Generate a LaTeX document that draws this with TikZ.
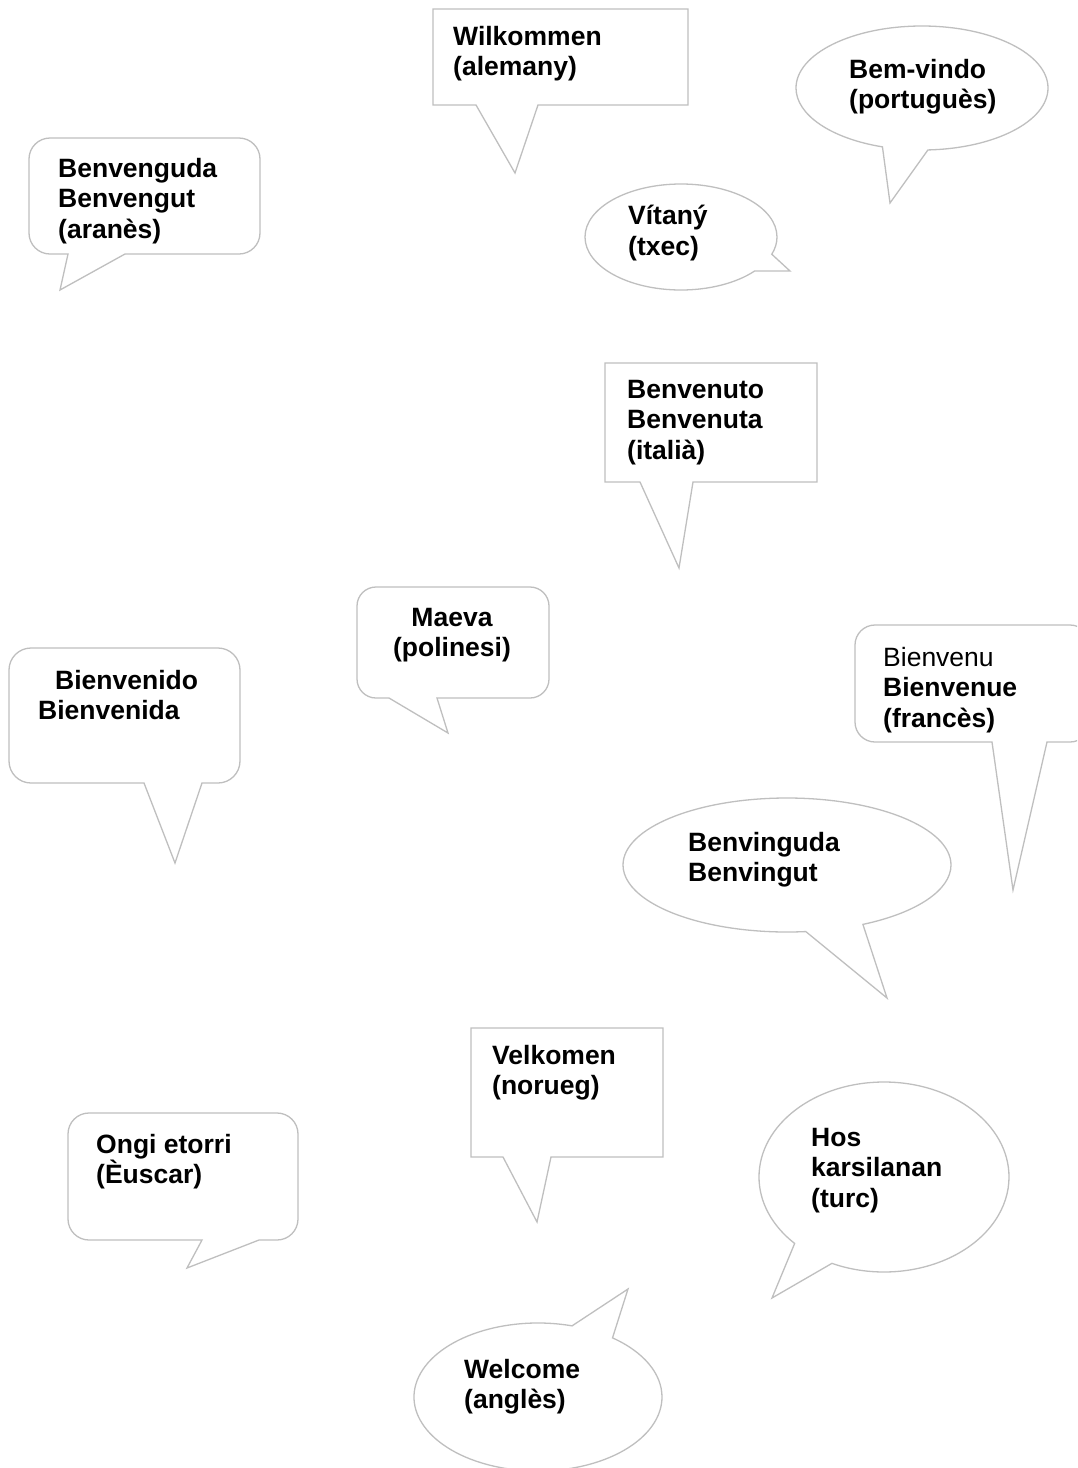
\documentclass[tikz,border=0pt]{standalone}
\usepackage{fontspec}
\setmainfont{Liberation Sans}
\usepackage{xcolor}
\usepackage{tikz}
\usetikzlibrary{shapes.callouts}
\definecolor{bubbleGray}{HTML}{BFBFBF}
\tikzset{
  bubble/.style={
    draw=bubbleGray, line width=1.3pt,
    fill=white, line join=miter
  },
  oval/.style={
    ellipse callout, bubble,
    callout pointer arc=21, inner sep=0pt
  },
  say/.style={
    anchor=north west, inner sep=0pt, align=left,
    font=\fontsize{26.5pt}{30.5pt}\selectfont\bfseries
  }
}
\begin{document}
\begin{tikzpicture}[x=1pt, y=-1pt]
  \useasboundingbox (0,0) rectangle (1077,1468);
  \clip (0,0) rectangle (1077,1468);
  % square boxes
  \draw[bubble] (433,9) -- (688,9) -- (688,105) -- (538,105) -- (515,173) -- (476,105) -- (433,105) -- cycle;
  \draw[bubble] (605,363) -- (817,363) -- (817,482) -- (693,482) -- (679,568) -- (640,482) -- (605,482) -- cycle;
  \draw[bubble] (471,1028) -- (663,1028) -- (663,1157) -- (551,1157) -- (537,1222) -- (503,1157) -- (471,1157) -- cycle;
  % rounded boxes
  \draw[bubble] (50,138) -- (239,138) arc[start angle=90, end angle=0, radius=21pt] -- (260,233) arc[start angle=0, end angle=-90, radius=21pt]
    -- (125,254) -- (60,290) -- (68,254) -- (50,254) arc[start angle=-90, end angle=-180, radius=21pt] -- (29,159) arc[start angle=180, end angle=90, radius=21pt] -- cycle;
  \draw[bubble] (376,587) -- (530,587) arc[start angle=90, end angle=0, radius=19pt] -- (549,679) arc[start angle=0, end angle=-90, radius=19pt]
    -- (437,698) -- (448,733) -- (389,698) -- (376,698) arc[start angle=-90, end angle=-180, radius=19pt] -- (357,606) arc[start angle=180, end angle=90, radius=19pt] -- cycle;
  \draw[bubble] (31,648) -- (218,648) arc[start angle=90, end angle=0, radius=22pt] -- (240,761) arc[start angle=0, end angle=-90, radius=22pt]
    -- (202,783) -- (175,863) -- (144,783) -- (31,783) arc[start angle=-90, end angle=-180, radius=22pt] -- (9,670) arc[start angle=180, end angle=90, radius=22pt] -- cycle;
  \draw[bubble] (875,625) -- (1070,625) arc[start angle=90, end angle=0, radius=20pt] -- (1090,722) arc[start angle=0, end angle=-90, radius=20pt]
    -- (1047,742) -- (1013,890) -- (992,742) -- (875,742) arc[start angle=-90, end angle=-180, radius=20pt] -- (855,645) arc[start angle=180, end angle=90, radius=20pt] -- cycle;
  \draw[bubble] (89,1113) -- (277,1113) arc[start angle=90, end angle=0, radius=21pt] -- (298,1219) arc[start angle=0, end angle=-90, radius=21pt]
    -- (259,1240) -- (187,1268) -- (202,1240) -- (89,1240) arc[start angle=-90, end angle=-180, radius=21pt] -- (68,1134) arc[start angle=180, end angle=90, radius=21pt] -- cycle;
  % ovals
  \node[oval, minimum width=252pt, minimum height=124pt, callout absolute pointer={(890,203)}] (bemvindo) at (922,88) {};
  \node[oval, minimum width=192pt, minimum height=106pt, callout absolute pointer={(790,271)}] (vitany) at (681,237) {};
  \node[oval, minimum width=328pt, minimum height=134pt, callout absolute pointer={(887,998)}] (benvinguda) at (787,865) {};
  \node[oval, minimum width=250pt, minimum height=190pt, callout absolute pointer={(772,1298)}] (hos) at (884,1177) {};
  \node[oval, minimum width=248pt, minimum height=148pt, callout absolute pointer={(628,1289)}] (welcome) at (538,1397) {};
  % texts
  \node[say] (alemany) at (453,26) {Wilkommen\\(alemany)};
  \node[say] (portugues) at (849,59) {Bem-vindo\\(portuguès)};
  \node[say] (aranes) at (58,158) {Benvenguda\\Benvengut\\(aranès)};
  \node[say] (txec) at (628,205) {Vítaný\\(txec)};
  \node[say] (italia) at (627,380) {Benvenuto\\Benvenuta\\(italià)};
  \node[say, anchor=north, align=center] (polinesi) at (452,608) {Maeva\\(polinesi)};
  \node[say] (castella) at (38,670) {\hspace{17pt}Bienvenido\\Bienvenida};
  \node[say] (frances) at (883,647) {{\mdseries Bienvenu}\\Bienvenue\\(francès)};
  \node[say] (catala) at (688,832) {Benvinguda\\Benvingut};
  \node[say] (noruec) at (492,1045) {Velkomen\\(norueg)};
  \node[say] (euscar) at (96,1134) {Ongi etorri\\(Èuscar)};
  \node[say] (turc) at (811,1128) {Hos\\karsilanan\\(turc)};
  \node[say] (angles) at (464,1359) {Welcome\\(anglès)};
\end{tikzpicture}
\end{document}
